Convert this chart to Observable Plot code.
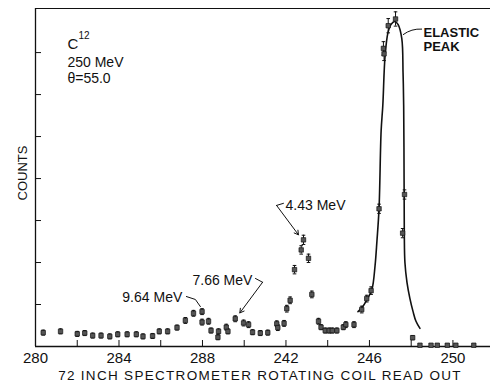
<!DOCTYPE html>
<html><head><meta charset="utf-8">
<script src="https://cdn.jsdelivr.net/npm/d3@7"></script>
<script src="https://cdn.jsdelivr.net/npm/@observablehq/plot@0.6"></script>
<style>body{margin:0;background:#fff} svg{display:block}</style>
</head><body><div id="chart"></div>
<script>
// Measured data points (rotating coil read-out, counts in arbitrary units)
const readout = [280.37,281.20,282.00,282.36,282.74,283.14,283.56,283.94,284.39,284.83,285.15,285.61,285.93,286.33,286.78,287.18,287.57,287.98,287.98,288.29,288.41,288.77,288.74,289.14,289.22,289.57,289.97,290.21,290.40,290.77,291.13,291.56,291.61,291.91,292.04,292.20,292.41,292.73,292.84,293.08,293.24,293.56,293.68,293.88,294.07,294.22,294.44,294.75,294.87,295.26,295.63,295.87,296.08,296.46,296.67,296.70,296.90,297.25,297.59,297.68,298.07,298.42,298.95,299.25,299.73,300.14,301.00];
const counts  = [0.33,0.36,0.30,0.32,0.26,0.26,0.24,0.29,0.29,0.29,0.24,0.25,0.36,0.36,0.45,0.62,0.79,0.83,0.58,0.60,0.38,0.36,0.22,0.46,0.36,0.66,0.56,0.52,0.34,0.32,0.33,0.54,0.45,0.55,0.90,1.10,1.83,2.30,2.54,2.10,1.24,0.60,0.46,0.38,0.38,0.38,0.38,0.46,0.52,0.52,0.88,1.14,1.33,3.28,7.10,6.97,7.64,7.80,2.70,3.62,0.21,0.03,0.03,0.03,0.03,0.03,0.03];
const errors  = [0.06,0.06,0.06,0.06,0.06,0.06,0.06,0.06,0.06,0.06,0.06,0.06,0.06,0.06,0.06,0.07,0.07,0.07,0.07,0.07,0.06,0.06,0.06,0.07,0.06,0.07,0.07,0.07,0.06,0.06,0.06,0.07,0.07,0.07,0.08,0.08,0.10,0.10,0.11,0.10,0.08,0.07,0.06,0.06,0.06,0.06,0.06,0.06,0.07,0.07,0.08,0.08,0.09,0.11,0.16,0.16,0.17,0.17,0.11,0.11,0.05,0.03,0.03,0.03,0.03,0.03,0.03];

// Fitted elastic peak curve
const curveX = [295.45,295.65,295.89,296.12,296.27,296.36,296.46,296.56,296.64,296.75,296.89,297.03,297.22,297.37,297.55,297.61,297.64,297.66,297.67,297.70,297.80,297.94,298.09,298.23,298.42];
const curveY = [0.83,0.93,1.12,1.36,1.93,2.52,3.29,5.14,5.74,6.93,7.48,7.67,7.74,7.67,7.33,6.52,5.74,3.95,2.71,2.00,1.52,1.14,0.83,0.60,0.43];

// Axis ticks
const xLabelTicks = [280,284,288,292,296,300];
const xTickLabels = ["280","284","288","242","246","250"];
const xMinorTicks = [282,284,286,288,290,292,294,296,298,300];
const yTicks = [1,2,3,4,5,6,7];

// Texts
const xTitle = "72 INCH SPECTROMETER ROTATING COIL READ OUT";
const yTitle = "COUNTS";
const infoLabels = [
  {text: "C", x: 281.53, y: 7.19, size: 15},
  {text: "12", x: 282.06, y: 7.40, size: 10},
  {text: "250 MeV", x: 281.53, y: 6.76, size: 14},
  {text: "θ=55.0", x: 281.53, y: 6.38, size: 14}
];
const peakLabels = [
  {text: "ELASTIC", x: 298.59, y: 7.47},
  {text: "PEAK", x: 298.59, y: 7.13}
];
const levelLabels = [
  {text: "4.43 MeV", x: 291.98, y: 3.36},
  {text: "7.66 MeV", x: 287.52, y: 1.57},
  {text: "9.64 MeV", x: 284.16, y: 1.17}
];
const leaderLines = [
  {id: "a", pts: [[291.88,3.41],[291.55,3.36]]},
  {id: "b", pts: [[290.54,1.62],[290.88,1.53]]},
  {id: "c", pts: [[287.23,1.19],[287.66,1.12],[287.90,0.95]]}
];
const arrows = [
  {x1: 291.55, y1: 3.36, x2: 292.60, y2: 2.66},
  {x1: 290.88, y1: 1.53, x2: 289.79, y2: 0.80}
];
const elasticLeader = [{x1: 298.50, y1: 7.56, x2: 297.62, y2: 7.43}];

const points = readout.map((x, i) => ({x, y: counts[i], e: errors[i]}));
const curve = curveX.map((x, i) => ({x, y: curveY[i]}));
const leaderPts = leaderLines.flatMap(l => l.pts.map(p => ({id: l.id, x: p[0], y: p[1]})));

const cap = {draw(ctx, size) { const w = Math.sqrt(size / Math.PI); ctx.moveTo(-w, 0); ctx.lineTo(w, 0); }};
const font = "Liberation Sans, Arial, sans-serif";

const chart = Plot.plot({
  width: 490, height: 388,
  marginLeft: 35, marginRight: 0, marginTop: 8, marginBottom: 42,
  style: {fontFamily: font, color: "#111", background: "#fff"},
  x: {domain: [280, 301.8]},
  y: {domain: [0, 8.05]},
  marks: [
    Plot.ruleY([0], {stroke: "#111", strokeWidth: 1.3}),
    Plot.ruleY([8.05], {stroke: "#111", strokeWidth: 1.2}),
    Plot.ruleX([280], {stroke: "#111", strokeWidth: 1.3}),
    Plot.axisX({ticks: xMinorTicks, tickSize: -6, tickFormat: () => "", stroke: "#111"}),
    Plot.axisX({ticks: xLabelTicks, tickSize: 0, tickPadding: 6, fontSize: 15, tickFormat: (d, i) => xTickLabels[i], label: null}),
    Plot.axisY({ticks: yTicks, tickSize: -6, tickFormat: () => "", label: null, stroke: "#111"}),
    Plot.line(curve, {x: "x", y: "y", curve: "catmull-rom", stroke: "#111", strokeWidth: 1.6}),
    Plot.ruleX(points, {x: "x", y1: d => d.y - d.e, y2: d => d.y + d.e, stroke: "#111", strokeWidth: 1}),
    Plot.dot(points, {x: "x", y: d => d.y + d.e, symbol: cap, r: 1.8, stroke: "#111", strokeWidth: 1}),
    Plot.dot(points, {x: "x", y: d => d.y - d.e, symbol: cap, r: 1.8, stroke: "#111", strokeWidth: 1}),
    Plot.dot(points, {x: "x", y: "y", symbol: "square", r: 2.5, fill: "#555", stroke: "#111", strokeWidth: 0.7}),
    Plot.text(infoLabels, {x: "x", y: "y", text: "text", fontSize: d => d.size, textAnchor: "start", fill: "#111"}),
    Plot.text(peakLabels, {x: "x", y: "y", text: "text", fontSize: 13, fontWeight: "bold", textAnchor: "start", fill: "#111"}),
    Plot.text(levelLabels, {x: "x", y: "y", text: "text", fontSize: 14, textAnchor: "start", fill: "#111"}),
    Plot.line(leaderPts, {x: "x", y: "y", z: "id", stroke: "#111", strokeWidth: 1}),
    Plot.arrow(arrows, {x1: "x1", y1: "y1", x2: "x2", y2: "y2", stroke: "#111", strokeWidth: 1, headLength: 7}),
    Plot.arrow(elasticLeader, {x1: "x1", y1: "y1", x2: "x2", y2: "y2", stroke: "#111", strokeWidth: 1, headLength: 0, bend: -20}),
    Plot.text([yTitle], {frameAnchor: "left", rotate: -90, dx: -13, dy: 23, fontSize: 13, fill: "#111"}),
    Plot.text([xTitle], {frameAnchor: "bottom", dx: -3, dy: 33, fontSize: 13.5, fill: "#111"})
  ]
});
document.getElementById("chart").append(chart);
d3.select(chart).selectAll("text").filter(function() { return this.textContent === xTitle; }).attr("letter-spacing", "1.3px");
</script>
</body></html>
